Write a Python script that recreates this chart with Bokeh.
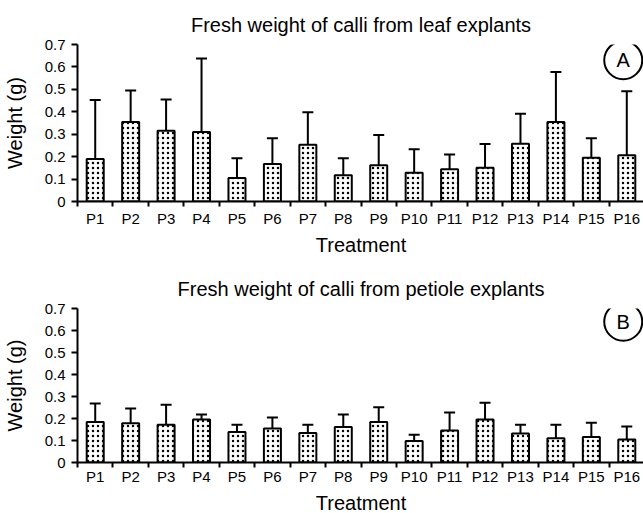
from bokeh.plotting import figure
from bokeh.layouts import column
from bokeh.models import (Range1d, FixedTicker, CustomJSTickFormatter, Whisker,
                          ColumnDataSource, TeeHead)
from bokeh.embed import file_html
from bokeh.resources import INLINE
from bokeh.core.properties import value

treatments = ["P1", "P2", "P3", "P4", "P5", "P6", "P7", "P8",
              "P9", "P10", "P11", "P12", "P13", "P14", "P15", "P16"]
leaf_mean = [0.190, 0.355, 0.315, 0.310, 0.105, 0.167, 0.253, 0.117,
             0.162, 0.128, 0.144, 0.150, 0.257, 0.355, 0.195, 0.206]
leaf_sd = [0.262, 0.140, 0.140, 0.328, 0.088, 0.115, 0.145, 0.076,
           0.134, 0.105, 0.066, 0.106, 0.134, 0.222, 0.087, 0.286]
petiole_mean = [0.184, 0.178, 0.172, 0.196, 0.139, 0.155, 0.134, 0.161,
                0.184, 0.098, 0.145, 0.196, 0.132, 0.110, 0.116, 0.105]
petiole_sd = [0.084, 0.067, 0.090, 0.022, 0.033, 0.050, 0.038, 0.057,
              0.067, 0.028, 0.082, 0.076, 0.040, 0.062, 0.065, 0.059]
y_ticks = [0, 0.1, 0.2, 0.3, 0.4, 0.5, 0.6, 0.7]

FONT = "Liberation Sans"


def panel(title, means, sds, letter, letter_y, frame_h, top, bottom, lab_off, axlab_off):
    n = len(treatments)
    p = figure(frame_width=567, frame_height=frame_h, output_backend="svg",
               toolbar_location=None,
               x_range=Range1d(0, n), y_range=Range1d(0, 0.7),
               min_border_left=76, min_border_right=0,
               min_border_top=top, min_border_bottom=bottom)
    p.outline_line_color = None
    p.grid.visible = False
    p.title.text = title
    p.title.align = "center"
    p.title.text_font = FONT
    p.title.text_font_size = "20px"
    p.title.text_font_style = "normal"
    p.title.text_color = "black"
    p.title.standoff = 17

    xs = [i + 0.5 for i in range(n)]
    src = ColumnDataSource(dict(x=xs, mean=means,
                                upper=[m + s for m, s in zip(means, sds)]))
    p.add_layout(Whisker(base="x", lower="mean", upper="upper", source=src,
                         line_color="black", line_width=2, lower_head=None,
                         upper_head=TeeHead(size=11, line_color="black", line_width=2)))
    p.vbar(x="x", top="mean", width=0.48, source=src, fill_color="white",
           line_color="black", line_width=2, hatch_pattern="dot",
           hatch_color="black", hatch_scale=5, hatch_weight=3)

    # panel letter
    p.scatter(x=[n - 0.6], y=[letter_y], size=38, marker="circle",
              fill_color="white", line_color="black", line_width=2)
    p.text(x=[n - 0.6], y=[letter_y], text=[letter], text_align="center",
           text_baseline="middle", text_font=value(FONT), text_font_size="20px")

    xa = p.xaxis[0]
    xa.ticker = FixedTicker(ticks=xs, minor_ticks=list(range(n + 1)))
    xa.formatter = CustomJSTickFormatter(args=dict(labels=treatments),
                                         code="return labels[Math.floor(tick)];")
    xa.major_tick_line_color = None
    xa.major_tick_out = 5
    xa.major_tick_in = 0
    xa.minor_tick_out = 5
    xa.minor_tick_in = 0
    xa.minor_tick_line_width = 2
    xa.axis_line_width = 2
    xa.axis_label = "Treatment"

    ya = p.yaxis[0]
    ya.ticker = FixedTicker(ticks=y_ticks)
    ya.formatter = CustomJSTickFormatter(code="return tick == 0 ? '0' : tick.toFixed(1);")
    ya.minor_tick_line_color = None
    ya.major_tick_out = 6
    ya.major_tick_in = 0
    ya.major_tick_line_width = 2
    ya.axis_line_width = 2
    ya.axis_label = "Weight (g)"

    for ax in (xa, ya):
        ax.axis_line_color = "black"
        ax.major_label_text_font = FONT
        ax.major_label_text_font_size = "15px"
        ax.major_label_text_color = "black"
        ax.axis_label_text_font = FONT
        ax.axis_label_text_font_size = "20px"
        ax.axis_label_text_font_style = "normal"
        ax.axis_label_text_color = "black"
    xa.major_label_standoff = lab_off
    xa.axis_label_standoff = axlab_off
    ya.major_label_standoff = 6
    ya.axis_label_standoff = 16
    return p


pA = panel("Fresh weight of calli from leaf explants", leaf_mean, leaf_sd, "A", 0.63,
           157, 44, 57, 3, 4)
pB = panel("Fresh weight of calli from petiole explants", petiole_mean, petiole_sd, "B", 0.64,
           154, 50, 51, 0, 4)

layout = column(pA, pB, spacing=0)
open("out.html", "w").write(file_html(layout, INLINE))
